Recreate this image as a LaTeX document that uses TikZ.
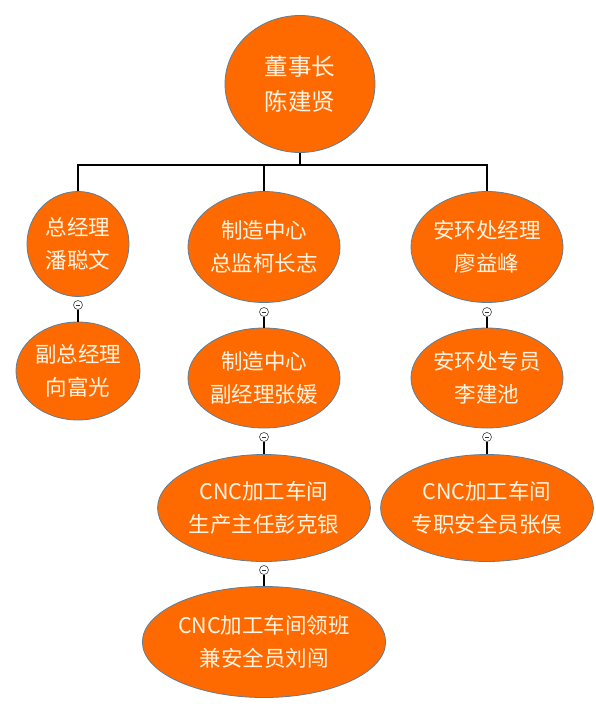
\documentclass[tikz,border=0pt]{standalone}
\usepackage{fontspec}
\setmainfont{Noto Sans CJK SC}
\usetikzlibrary{shapes.geometric}
\definecolor{nodeorange}{RGB}{255,106,0}
\definecolor{nodeedge}{RGB}{95,125,150}
\definecolor{nodetext}{RGB}{255,244,228}
\begin{document}
\begin{tikzpicture}[x=1pt,y=-1pt,
  person/.style={ellipse, fill=nodeorange, draw=nodeedge, line width=0.8pt, inner sep=0pt,
    text=nodetext, align=center, font=\fontsize{21.5}{33}\selectfont},
  tree/.style={line width=2.2pt, black},
  link/.style={line width=2pt, black},
  toggle/.style={circle, draw=black!75, fill=white, line width=0.6pt, minimum size=9pt, inner sep=0pt,
    path picture={\draw[line width=0.5pt, black!80] ([xshift=-2.3pt]path picture bounding box.center) -- ([xshift=2.3pt]path picture bounding box.center);}}]
\fill[white] (0,0) rectangle (595,709);
\useasboundingbox (0,0) rectangle (595,709);

% nodes
\node[person, minimum width=150pt, minimum height=137pt, font=\fontsize{23.5}{35}\selectfont] (top) at (300,84) {董事长\\陈建贤};
\node[person, minimum width=102pt, minimum height=105pt] (n1) at (78,244) {总经理\\潘聪文};
\node[person, minimum width=152pt, minimum height=111pt] (n2) at (264,247) {制造中心\\总监柯长志};
\node[person, minimum width=151pt, minimum height=111pt] (n3) at (487,247) {安环处经理\\廖益峰};
\node[person, minimum width=124pt, minimum height=98pt] (n4) at (78,371) {副总经理\\向富光};
\node[person, minimum width=148pt, minimum height=100pt] (n5) at (264,378) {制造中心\\副经理张媛};
\node[person, minimum width=148pt, minimum height=100pt] (n6) at (487,378) {安环处专员\\李建池};
\node[person, minimum width=195pt, minimum height=107pt] (n7) at (264,508) {CNC加工车间\\生产主任彭克银};
\node[person, minimum width=196pt, minimum height=107pt] (n8) at (487,508) {CNC加工车间\\专职安全员张俣};
\node[person, minimum width=224pt, minimum height=111pt] (n9) at (264,642) {CNC加工车间领班\\兼安全员刘闯};

% top-level tree
\coordinate (bar) at (300,165);
\draw[tree] (top.south) -- (bar);
\draw[tree] (n1.north) |- (bar) -| (n3.north);
\draw[tree] (n2.north) -- (n2.north |- bar);

% collapse toggles and links
\node[toggle] (t1) at (78,305) {};
\node[toggle] (t2) at (264,312) {};
\node[toggle] (t3) at (487,312) {};
\node[toggle] (t5) at (264,437) {};
\node[toggle] (t6) at (487,437) {};
\node[toggle] (t7) at (264,570) {};
\draw[link] (t1.south) -- (n4.north);
\draw[link] (t2.south) -- (n5.north);
\draw[link] (t3.south) -- (n6.north);
\draw[link] (t5.south) -- (n7.north);
\draw[link] (t6.south) -- (n8.north);
\draw[link] (t7.south) -- (n9.north);
\end{tikzpicture}
\end{document}
